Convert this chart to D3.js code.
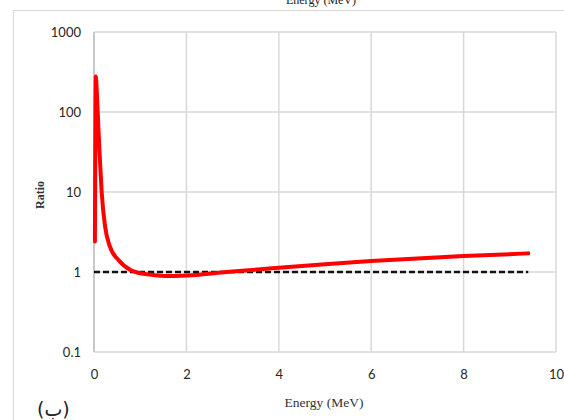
<!DOCTYPE html>
<html><head><meta charset="utf-8">
<script src="https://cdn.jsdelivr.net/npm/d3@7/dist/d3.min.js"></script>
<style>body{margin:0;background:#fff}svg{display:block}</style>
</head><body>
<svg id="c" width="564" height="420"></svg>
<script>
const energy = [0.02, 0.04, 0.06, 0.08, 0.12, 0.166, 0.24, 0.345, 0.53, 0.8, 0.95, 1.2, 1.64, 2.2, 2.87, 3.6, 4.0, 5.0, 6.0, 7.0, 8.0, 9.4];
const ratio  = [2.4, 277, 180, 100, 31, 10, 3.7, 2.07, 1.41, 1.05, 0.98, 0.93, 0.89, 0.92, 1.0, 1.08, 1.13, 1.25, 1.37, 1.48, 1.58, 1.71];
const refEnergy = [0, 9.4];
const refRatio = [1, 1];
const xTicks = [0, 2, 4, 6, 8, 10];
const yTicks = [0.1, 1, 10, 100, 1000];
const xTitle = "Energy (MeV)";
const yTitle = "Ratio";
const panelLabel = "(ب)";

const svg = d3.select("#c");
const L = 94, R = 556, T = 32, B = 352;
const x = d3.scaleLinear().domain([0, 10]).range([L, R]);
const y = d3.scaleLog().domain([0.1, 1000]).range([B, T]);

svg.append("rect").attr("x", 13.5).attr("y", 10.5).attr("width", 600).attr("height", 430)
  .attr("fill", "none").attr("stroke", "#d9d9d9").attr("stroke-width", 1);

// top title, partially cut off as in the reference
svg.append("text").attr("x", 321).attr("y", 4).attr("text-anchor", "middle")
  .attr("font-family", "Liberation Serif").attr("font-size", 12).attr("fill", "#222").text(xTitle);

const grid = svg.append("g");
grid.selectAll("line.v").data(xTicks).join("line")
  .attr("x1", d => x(d)).attr("x2", d => x(d)).attr("y1", T).attr("y2", B)
  .attr("stroke", "#d9d9d9").attr("stroke-width", 1.5);
grid.selectAll("line.h").data(yTicks).join("line")
  .attr("x1", L).attr("x2", R).attr("y1", d => y(d)).attr("y2", d => y(d))
  .attr("stroke", "#d9d9d9").attr("stroke-width", 1.5);
svg.append("line").attr("x1", L).attr("x2", L).attr("y1", T).attr("y2", B)
  .attr("stroke", "#bfbfbf").attr("stroke-width", 1.5);

const xAxis = svg.append("g").attr("transform", `translate(0,${B + 24})`)
  .call(d3.axisBottom(x).tickValues(xTicks).tickSize(0).tickFormat(d3.format("d")));
xAxis.select(".domain").remove();
xAxis.selectAll("text").attr("font-family", "Lato").attr("font-size", 13).attr("fill", "#262626").attr("dy", 0);

const yAxis = svg.append("g").attr("transform", `translate(${L - 13},0)`)
  .call(d3.axisLeft(y).tickValues(yTicks).tickSize(0).tickFormat(d => String(d)));
yAxis.select(".domain").remove();
yAxis.selectAll("text").attr("font-family", "Lato").attr("font-size", 13).attr("fill", "#262626").attr("x", 0);

svg.append("text").attr("x", 324).attr("y", 407).attr("text-anchor", "middle")
  .attr("font-family", "Liberation Serif").attr("font-size", 13.5).attr("fill", "#333").text(xTitle);
svg.append("text").attr("transform", "translate(44,195) rotate(-90)").attr("text-anchor", "middle")
  .attr("font-family", "Liberation Serif").attr("font-size", 12).attr("font-weight", "bold").attr("fill", "#333").text(yTitle);
svg.append("text").attr("x", 37).attr("y", 416)
  .attr("font-family", "DejaVu Sans").attr("font-size", 19).attr("fill", "#222").text(panelLabel);

svg.append("path").datum(refEnergy.map((e, i) => [e, refRatio[i]]))
  .attr("d", d3.line().x(d => x(d[0])).y(d => y(d[1])))
  .attr("fill", "none").attr("stroke", "#111").attr("stroke-width", 2.5).attr("stroke-dasharray", "6,3");

svg.append("path").datum(energy.map((e, i) => [e, ratio[i]]))
  .attr("d", d3.line().x(d => x(d[0])).y(d => y(d[1])).curve(d3.curveMonotoneX))
  .attr("fill", "none").attr("stroke", "#ff0000").attr("stroke-width", 4)
  .attr("stroke-linecap", "round").attr("stroke-linejoin", "round");
</script>
</body></html>
